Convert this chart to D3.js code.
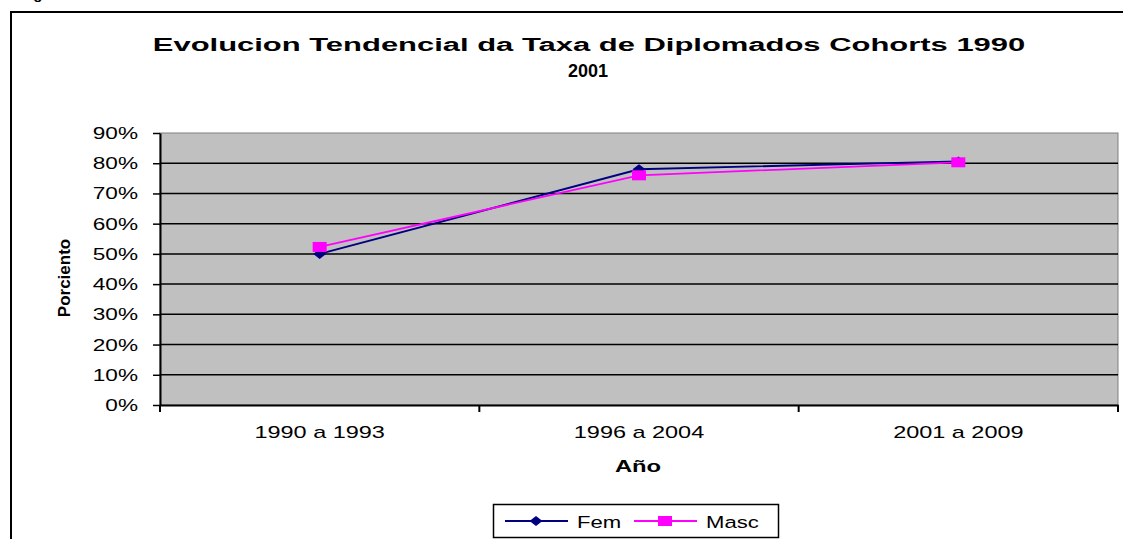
<!DOCTYPE html>
<html>
<head>
<meta charset="utf-8">
<script src="https://cdn.jsdelivr.net/npm/d3@7"></script>
<style>
  body { margin: 0; background: #fff; }
  svg { display: block; font-family: "Liberation Sans", Arial, sans-serif; }
</style>
</head>
<body>
<svg id="chart" width="1123" height="539"></svg>
<script>
const categories = ["1990 a 1993", "1996 a 2004", "2001 a 2009"];
const fem = [50, 78, 80.6];
const masc = [52.3, 76, 80.3];
const yTicks = [0, 10, 20, 30, 40, 50, 60, 70, 80, 90];

const svg = d3.select("#chart");
const plot = {left: 160, top: 133, right: 1118, bottom: 405};
const FONT = "'Liberation Sans', Arial, sans-serif";

// the picture is wider than tall, so text is drawn stretched sideways
function label(x, y, txt, size, bold, sx, anchor) {
  return svg.append("text")
    .attr("transform", `translate(${x},${y}) scale(${sx},1)`)
    .attr("text-anchor", anchor || "middle")
    .style("font-size", size + "px")
    .style("font-weight", bold ? "bold" : null)
    .text(txt);
}

// outer chart frame (right/bottom edge fall outside the picture)
svg.append("path")
  .attr("d", "M11,545 V12 H1130")
  .attr("fill", "none")
  .attr("stroke", "#000")
  .attr("stroke-width", 2);

// caption cut by the top of the picture
label(20, -1, "Figura", 15, true, 1, "start");

label(589, 51, "Evolucion Tendencial da Taxa de Diplomados Cohorts 1990", 18, true, 1.72);
label(588, 77, "2001", 18, true, 1.0);

const x = d3.scaleBand()
  .domain(categories)
  .range([plot.left, plot.right]);

const y = d3.scaleLinear()
  .domain([0, 90])
  .range([plot.bottom, plot.top]);

svg.append("rect")
  .attr("x", plot.left).attr("y", plot.top)
  .attr("width", plot.right - plot.left)
  .attr("height", plot.bottom - plot.top)
  .attr("fill", "#c0c0c0")
  .attr("stroke", "#808080")
  .attr("stroke-width", 1);

// gridlines
svg.append("g")
  .selectAll("line")
  .data(yTicks.filter(d => d > 0 && d < 90))
  .join("line")
  .attr("x1", plot.left).attr("x2", plot.right)
  .attr("y1", d => y(d))
  .attr("y2", d => y(d))
  .attr("stroke", "#000")
  .attr("stroke-width", 1.5);

// y axis
const yAxis = svg.append("g")
  .attr("transform", `translate(${plot.left},0)`)
  .call(d3.axisLeft(y).tickValues(yTicks).tickFormat(d => d + "%").tickSize(7).tickSizeOuter(0));
yAxis.select(".domain").attr("stroke-width", 2);
yAxis.selectAll(".tick line").attr("stroke-width", 1.5);
yAxis.selectAll(".tick text")
  .attr("x", 0)
  .attr("transform", "translate(-22,0) scale(1.33,1)")
  .attr("fill", "#000")
  .style("font-size", "17px")
  .style("font-family", FONT);

// x axis
const xAxis = svg.append("g")
  .attr("transform", `translate(0,${plot.bottom})`)
  .call(d3.axisBottom(x).tickSize(0));
xAxis.select(".domain").attr("stroke-width", 2);
xAxis.selectAll(".tick text")
  .attr("y", 0)
  .attr("transform", "translate(0,21) scale(1.38,1)")
  .attr("fill", "#000")
  .style("font-size", "17px")
  .style("font-family", FONT);
svg.append("g")
  .selectAll("line")
  .data(categories.map(c => x(c)).concat([plot.right]))
  .join("line")
  .attr("x1", d => d).attr("x2", d => d)
  .attr("y1", plot.bottom).attr("y2", plot.bottom + 7)
  .attr("stroke", "#000")
  .attr("stroke-width", 2);

label(638, 472, "Año", 17, true, 1.4);

svg.append("text")
  .attr("transform", "translate(70,278) rotate(-90)")
  .attr("text-anchor", "middle")
  .style("font-size", "17px").style("font-weight", "bold")
  .text("Porciento");

const cx = c => x(c) + x.bandwidth() / 2;
const diamond = "M-6.5,0L0,-5L6.5,0L0,5Z";
const square = "M-7,-5H7V5H-7Z";
const series = [
  {name: "Fem", values: fem, color: "#000080", shape: diamond},
  {name: "Masc", values: masc, color: "#ff00ff", shape: square}
];

series.forEach(s => {
  const line = d3.line()
    .x((d, i) => cx(categories[i]))
    .y(d => y(d));
  svg.append("path")
    .datum(s.values)
    .attr("fill", "none")
    .attr("stroke", s.color)
    .attr("stroke-width", 1.8)
    .attr("d", line);
  svg.append("g")
    .selectAll("path")
    .data(s.values)
    .join("path")
    .attr("transform", (d, i) => `translate(${cx(categories[i])},${y(d)})`)
    .attr("d", s.shape)
    .attr("fill", s.color);
});

// legend
const legend = svg.append("g");
legend.append("rect")
  .attr("x", 493.5).attr("y", 504.5)
  .attr("width", 285).attr("height", 33)
  .attr("fill", "#fff")
  .attr("stroke", "#000")
  .attr("stroke-width", 1.5);
const legendX = [505, 634];
series.forEach((s, i) => {
  const lx = legendX[i];
  legend.append("line")
    .attr("x1", lx).attr("x2", lx + 63)
    .attr("y1", 521).attr("y2", 521)
    .attr("stroke", s.color)
    .attr("stroke-width", 1.8);
  legend.append("path")
    .attr("transform", `translate(${lx + 31},521)`)
    .attr("d", s.shape)
    .attr("fill", s.color);
  label(lx + 72, 528, s.name, 17, false, 1.3, "start");
});
</script>
</body>
</html>
